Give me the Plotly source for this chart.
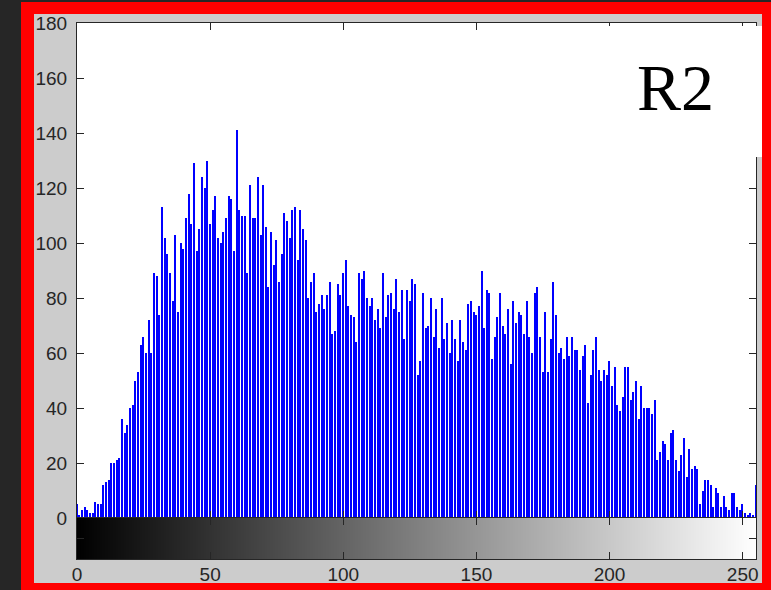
import plotly.graph_objects as go

# ---- data: 256-bin intensity histogram ----
counts_0_49 = [5, 1, 3, 4, 3, 2, 2, 6, 5, 5,
               12, 13, 14, 20, 20, 21, 22, 36, 31, 34,
               40, 41, 50, 53, 63, 66, 60, 72, 60, 89,
               88, 74, 113, 102, 96, 89, 79, 103, 75, 100,
               98, 109, 118, 107, 129, 97, 105, 124, 120, 130]
counts_50_99 = [107, 112, 117, 102, 100, 104, 109, 117, 116, 97,
                141, 112, 110, 110, 89, 121, 109, 109, 124, 103,
                121, 106, 84, 104, 92, 101, 86, 96, 111, 108,
                102, 112, 113, 94, 112, 105, 101, 80, 86, 89,
                75, 78, 81, 76, 81, 86, 67, 68, 85, 81]
counts_100_149 = [89, 94, 77, 74, 73, 64, 89, 87, 90, 80,
                  77, 80, 72, 76, 69, 89, 73, 81, 82, 76,
                  87, 75, 83, 65, 83, 79, 87, 85, 52, 57,
                  82, 69, 70, 80, 66, 76, 62, 80, 65, 71,
                  60, 72, 65, 57, 72, 64, 61, 78, 79, 75]
counts_150_199 = [74, 77, 90, 69, 83, 82, 58, 66, 73, 82,
                  70, 67, 76, 56, 79, 71, 75, 74, 67, 79,
                  66, 60, 82, 84, 66, 53, 75, 53, 65, 86,
                  74, 60, 62, 58, 66, 59, 66, 61, 61, 54,
                  59, 63, 42, 52, 61, 66, 54, 50, 54, 52]
counts_200_255 = [57, 48, 55, 41, 39, 44, 55, 55, 43, 46,
                  50, 36, 48, 40, 40, 40, 38, 43, 21, 24,
                  28, 27, 21, 31, 32, 21, 17, 23, 29, 15,
                  25, 18, 19, 18, 5, 10, 14, 14, 12, 4,
                  11, 9, 4, 8, 4, 3, 9, 9, 4, 3,
                  5, 2, 1, 2, 1, 12]
counts = counts_0_49 + counts_50_99 + counts_100_149 + counts_150_199 + counts_200_255
levels = list(range(256))

x_ticks = [0, 50, 100, 150, 200, 250]
y_ticks = [0, 20, 40, 60, 80, 100, 120, 140, 160, 180]
label_text = "R2"

# ---- geometry helpers (pixel -> paper) ----
W, H = 771, 590
L, R, T, B = 77, 756, 23, 559
def px(x):
    return (x - L) / (R - L)
def py(y):
    return (B - y) / (B - T)

AX = "#262626"
FONT = dict(family="Liberation Sans, Arial, sans-serif", size=19, color="#262626")

def rect(x0, y0, x1, y1, color, layer="above"):
    return dict(type="rect", xref="paper", yref="paper", layer=layer,
                x0=px(x0), x1=px(x1), y0=py(y1), y1=py(y0),
                fillcolor=color, line=dict(width=0))

fig = go.Figure()
fig.add_trace(go.Bar(x=levels, y=counts, width=0.55,
                     marker=dict(color="#0000ff", line=dict(width=0)),
                     xaxis="x", yaxis="y", showlegend=False, hoverinfo="x+y"))
fig.add_trace(go.Heatmap(x=levels, y=[0], z=[levels],
                         colorscale=[[0, "#000000"], [1, "#ffffff"]],
                         showscale=False, xaxis="x2", yaxis="y2", hoverinfo="skip"))

split = py(518)
common = dict(ticks="inside", ticklen=7, tickcolor=AX, showline=True,
              linecolor=AX, linewidth=1, mirror="ticks", showgrid=False,
              zeroline=False, automargin=False)
fig.update_layout(
    width=W, height=H,
    margin=dict(l=L, r=W - R, t=T, b=H - B, pad=0, autoexpand=False),
    paper_bgcolor="#cccccc", plot_bgcolor="#ffffff",
    bargap=0, showlegend=False,
    xaxis=dict(domain=[0, 1], range=[0, 255], anchor="y",
               tickvals=x_ticks, showticklabels=False, **common),
    yaxis=dict(domain=[split, 1], range=[0, 180], anchor="x",
               tickvals=y_ticks, tickfont=FONT, ticklabelstandoff=5, **common),
    xaxis2=dict(domain=[0, 1], range=[0, 255], anchor="y2",
                tickvals=x_ticks, tickfont=FONT, ticklabelstandoff=-2, **common),
    yaxis2=dict(domain=[0, split], range=[-0.5, 0.5], anchor="x2",
                tickvals=[0], showticklabels=False, **common),
    shapes=[
        rect(21, 2, 771, 14, "#ff0000"),
        rect(21, 2, 34, 590, "#ff0000"),
        rect(762, 2, 771, 590, "#ff0000"),
        rect(21, 583, 771, 590, "#ff0000"),
        rect(0, 0, 21, 590, "#262626"),
        rect(0, 0, 771, 2, "#262626"),
        rect(600, 26, 762, 157, "#ffffff"),
    ],
    annotations=[
        dict(text=label_text, xref="paper", yref="paper",
             x=px(675), y=py(87), xanchor="center", yanchor="middle",
             showarrow=False,
             font=dict(family="Liberation Serif, Times New Roman, serif", size=66, color="#000000")),
    ],
)

fig.write_html("out.html",
               config={"displayModeBar": False},
               post_script="document.body.style.margin='0';document.body.style.padding='0';"
                           "document.body.style.overflow='hidden';")
